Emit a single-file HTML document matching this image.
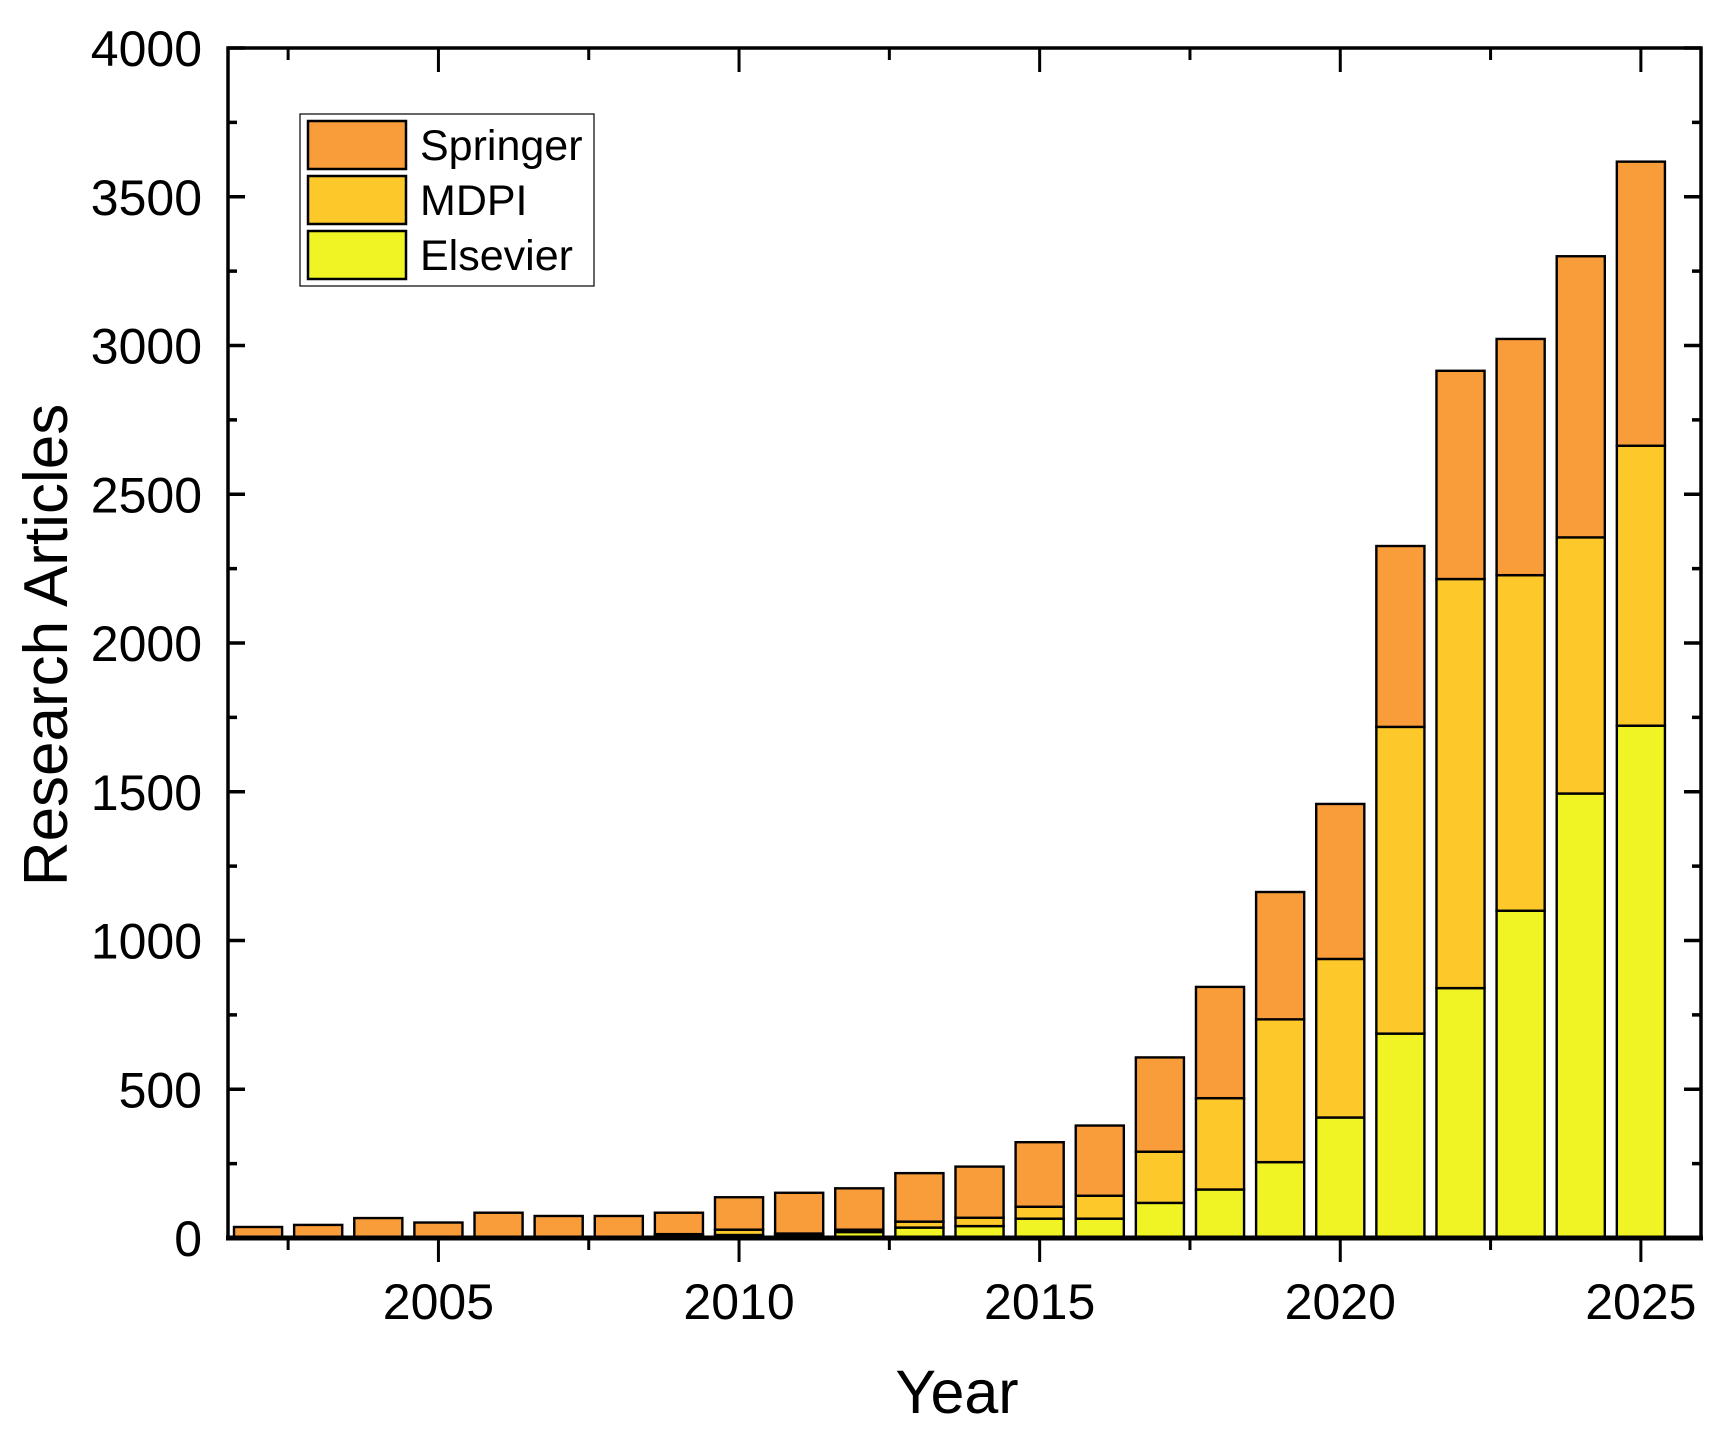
<!DOCTYPE html>
<html><head><meta charset="utf-8"><style>
html,body{margin:0;padding:0;background:#fff;}
svg{display:block;font-family:"Liberation Sans",Arial,sans-serif;}
</style></head><body>
<svg id="chart" width="1730" height="1447" viewBox="0 0 1730 1447" xmlns="http://www.w3.org/2000/svg">
<g id="plot"></g>
</svg>
<script>
const years = [2002,2003,2004,2005,2006,2007,2008,2009,2010,2011,2012,2013,2014,2015,2016,2017,2018,2019,2020,2021,2022,2023,2024,2025];
const elsevier = [0,0,3,3,2,0,3,8,10,12,20,35,40,65,65,118,163,255,405,687,840,1100,1494,1722];
const mdpi = [0,0,0,0,0,0,0,5,18,3,8,20,28,40,77,172,307,480,533,1031,1375,1128,861,941];
const springer = [37,44,64,49,83,74,71,72,109,137,139,163,172,217,236,317,374,428,521,608,700,794,945,955];
const yTicks = [0,500,1000,1500,2000,2500,3000,3500,4000];
const xTicks = [2005,2010,2015,2020,2025];

const NS = "http://www.w3.org/2000/svg";
const L = 228, R = 1701, T = 48, B = 1238;
const x0 = 2001.5, x1 = 2026, yMax = 4000;
const sx = v => L + (v - x0) / (x1 - x0) * (R - L);
const sy = v => B - v / yMax * (B - T);
const g = document.getElementById('plot');
function mk(tag, attrs, parent) {
  const e = document.createElementNS(NS, tag);
  for (const k in attrs) e.setAttribute(k, attrs[k]);
  (parent || g).appendChild(e);
  return e;
}
const bw = 0.8 * (sx(1) - sx(0));
const series = [
  {name:'elsevier', vals:elsevier, color:'#F0F424'},
  {name:'mdpi', vals:mdpi, color:'#FCC82A'},
  {name:'springer', vals:springer, color:'#F99D3A'}
];
years.forEach((yr, i) => {
  let base = 0;
  series.forEach(s => {
    const v = s.vals[i];
    const r = mk('rect', {x: sx(yr) - bw/2, y: sy(base + v), width: bw, height: sy(base) - sy(base + v), fill: s.color, stroke: '#000', 'stroke-width': 2.4});
    
    
    base += v;
  });
});
const frame = mk('rect', {x: L, y: T, width: R - L, height: B - T, fill: 'none', stroke: '#000', 'stroke-width': 3.5});


const xa = mk('line', {x1: L - 2, x2: R + 2, y1: B, y2: B, stroke: '#000', 'stroke-width': 5});


yTicks.forEach(v => {
  const y = sy(v);
  mk('line', {x1: L, x2: L + 17, y1: y, y2: y, stroke: '#000', 'stroke-width': 3.5});
  mk('line', {x1: R, x2: R - 17, y1: y, y2: y, stroke: '#000', 'stroke-width': 3.5});
  if (v < yMax) {
    const ym = sy(v + 250);
    mk('line', {x1: L, x2: L + 9, y1: ym, y2: ym, stroke: '#000', 'stroke-width': 3.5});
    mk('line', {x1: R, x2: R - 9, y1: ym, y2: ym, stroke: '#000', 'stroke-width': 3.5});
  }
  const t = mk('text', {x: 202, y: y + 18, 'text-anchor': 'end', 'font-size': 50});
  t.textContent = v;
  
  
});
xTicks.forEach(v => {
  const x = sx(v);
  mk('line', {x1: x, x2: x, y1: B, y2: B + 24, stroke: '#000', 'stroke-width': 3});
  mk('line', {x1: x, x2: x, y1: T, y2: T + 24, stroke: '#000', 'stroke-width': 3});
  const t = mk('text', {x: x, y: 1319, 'text-anchor': 'middle', 'font-size': 50});
  t.textContent = v;
  
  
});
for (let v = 2002.5; v < x1; v += 5) {
  const x = sx(v);
  mk('line', {x1: x, x2: x, y1: B, y2: B + 12, stroke: '#000', 'stroke-width': 3});
  mk('line', {x1: x, x2: x, y1: T, y2: T + 12, stroke: '#000', 'stroke-width': 3});
}
const xt = mk('text', {x: 957, y: 1413, 'text-anchor': 'middle', 'font-size': 61});
xt.textContent = 'Year';


const yt = mk('text', {x: 0, y: 0, 'text-anchor': 'middle', 'font-size': 62, transform: 'translate(67,645) rotate(-90)'});
yt.textContent = 'Research Articles';


const lg = mk('g', {});


mk('rect', {x: 300, y: 114, width: 294, height: 172, fill: '#fff', stroke: '#000', 'stroke-width': 1.2}, lg);
const legendItems = [['Springer','#F99D3A'],['MDPI','#FCC82A'],['Elsevier','#F0F424']];
legendItems.forEach((it, i) => {
  const y = 121 + i * 55;
  const sw = mk('rect', {x: 308, y: y, width: 98, height: 48, fill: it[1], stroke: '#000', 'stroke-width': 2.5}, lg);
  
  
  const t = mk('text', {x: 420, y: y + 39, 'font-size': 43}, lg);
  t.textContent = it[0];
  
  
});
</script>
</body></html>
